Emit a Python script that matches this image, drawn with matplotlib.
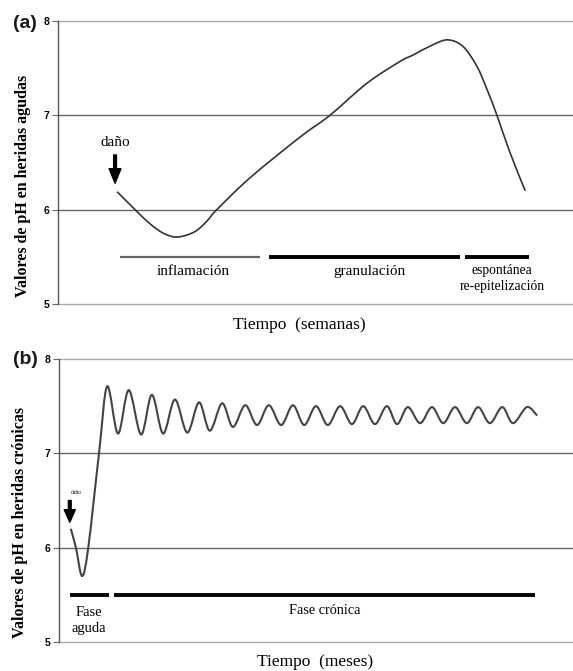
import numpy as np
import matplotlib
matplotlib.use("Agg")
import matplotlib.pyplot as plt
from matplotlib.path import Path
from matplotlib.patches import PathPatch

# ---------------- data ----------------
ph_ticks = [5, 6, 7, 8]

# (a) acute wounds: time (arbitrary units 0-100), pH
acute_t = [11.5, 15.0, 17.9, 20.5, 22.8, 25.0, 27.0, 29.0, 30.9, 37.4, 47.1, 52.9,
           60.1, 66.5, 69.1, 73.0, 75.9, 78.8, 81.5, 83.5, 85.4, 87.9, 90.9]
acute_ph = [6.19, 6.00, 5.85, 5.75, 5.71, 5.73, 5.78, 5.88, 6.00, 6.34, 6.77, 7.00,
            7.34, 7.57, 7.64, 7.75, 7.80, 7.73, 7.52, 7.27, 7.00, 6.61, 6.20]

acute_phases = ["inflamación", "granulación", "espontánea\nre-epitelización"]
acute_phase_start = [12.1, 41.1, 79.2]
acute_phase_end = [39.3, 78.2, 91.6]
acute_phase_label_x = [26.3, 60.7, 86.4]

# (b) chronic wounds
chronic_t = [2.3, 3.3, 4.5, 5.7, 7.8, 9.4,
             11.5, 13.6, 16.0, 18.1, 20.3, 22.6, 25.0, 27.3, 29.4, 31.8, 33.9, 36.3,
             38.6, 40.9, 43.3, 45.6, 47.8, 50.1, 52.4, 54.8, 57.1, 59.3, 61.6, 63.9,
             65.9, 68.0, 70.4, 72.7, 74.9, 77.2, 79.5, 81.7, 84.0, 86.4, 88.5, 91.2, 93.2]
chronic_ph = [6.20, 6.00, 5.70, 6.00, 7.00, 7.71,
              7.21, 7.67, 7.20, 7.62, 7.21, 7.57, 7.22, 7.54, 7.24, 7.53, 7.28, 7.51,
              7.30, 7.51, 7.30, 7.51, 7.30, 7.50, 7.30, 7.50, 7.31, 7.50, 7.31, 7.50,
              7.31, 7.49, 7.32, 7.49, 7.32, 7.49, 7.32, 7.49, 7.32, 7.49, 7.32, 7.49, 7.40]

chronic_phases = ["Fase\naguda", "Fase crónica"]
chronic_phase_start = [2.1, 10.7]
chronic_phase_end = [9.7, 92.8]
chronic_phase_label_x = [5.8, 51.7]

bar_level = 5.5

SERIF = "Liberation Serif"
SANS = "Liberation Sans"


def smooth_path(xs, ys):
    pts = np.column_stack([xs, ys]).astype(float)
    n = len(pts)
    verts = [pts[0]]
    codes = [Path.MOVETO]
    for i in range(n - 1):
        p0 = pts[i - 1] if i > 0 else pts[i]
        p1 = pts[i]
        p2 = pts[i + 1]
        p3 = pts[i + 2] if i + 2 < n else pts[i + 1]
        c1 = p1 + (p2 - p0) / 6.0
        c2 = p2 - (p3 - p1) / 6.0
        verts += [c1, c2, p2]
        codes += [Path.CURVE4] * 3
    return Path(verts, codes)


def style_axes(ax):
    ax.set_xlim(0, 100)
    ax.set_ylim(5, 8)
    for s in ["top", "right", "bottom"]:
        ax.spines[s].set_visible(False)
    ax.spines["left"].set_color("#555555")
    ax.spines["left"].set_linewidth(1.0)
    ax.set_xticks([])
    ax.set_yticks(ph_ticks)
    ax.set_yticklabels([str(v) for v in ph_ticks], fontfamily=SANS,
                       fontweight="bold", fontsize=7.5)
    ax.tick_params(axis="y", length=4, width=0.8, color="#666666", pad=2)
    for v in ph_ticks:
        col = "#aaaaaa" if v in (5, 8) else "#666666"
        ax.axhline(v, color=col, lw=1.0, zorder=1, clip_on=False)


fig = plt.figure(figsize=(5.73, 6.71), dpi=100)

# ---------------- panel (a) ----------------
axa = fig.add_axes([58 / 573, 1 - 304 / 671, 514 / 573, 283 / 671])
style_axes(axa)
axa.add_patch(PathPatch(smooth_path(acute_t, acute_ph), fill=False,
                        edgecolor="#333333", lw=1.2, zorder=3))
for i, (s, e) in enumerate(zip(acute_phase_start, acute_phase_end)):
    if i == 0:
        axa.plot([s, e], [bar_level, bar_level], color="#666666", lw=1.6,
                 solid_capstyle="butt")
    else:
        axa.plot([s, e], [bar_level, bar_level], color="black", lw=2.8,
                 solid_capstyle="butt")
axa.text(acute_phase_label_x[0], 5.34, acute_phases[0], ha="center", va="center",
         fontfamily=SERIF, fontsize=11)
axa.text(acute_phase_label_x[1], 5.34, acute_phases[1], ha="center", va="center",
         fontfamily=SERIF, fontsize=11)
axa.text(acute_phase_label_x[2], 5.27, acute_phases[2], ha="center", va="center",
         fontfamily=SERIF, fontsize=9.8, linespacing=1.25)
axa.annotate("", xy=(11.1, 6.28), xytext=(11.1, 6.58),
             arrowprops=dict(facecolor="black", edgecolor="black", width=2.0,
                             headwidth=8.5, headlength=10.5, shrink=0))
axa.text(11.1, 6.71, "daño", ha="center", va="center", fontfamily=SERIF, fontsize=11)
axa.set_ylabel("Valores de pH en heridas agudas", fontfamily=SERIF,
               fontweight="bold", fontsize=11.5)
axa.yaxis.set_label_coords((31 - 58) / 514, (304 - 186) / 283)
axa.text(0.5 - 0.03, -0.075, "Tiempo  (semanas)", transform=axa.transAxes,
         ha="center", va="center", fontfamily=SERIF, fontsize=12.5)
fig.text(25 / 573, 1 - 24 / 671, "(a)", ha="center", va="center",
         fontfamily=SANS, fontweight="bold", fontsize=14, color="#1a1a1a")

# ---------------- panel (b) ----------------
axb = fig.add_axes([59 / 573, 1 - 642 / 671, 513 / 573, 283 / 671])
style_axes(axb)
axb.add_patch(PathPatch(smooth_path(chronic_t, chronic_ph), fill=False,
                        edgecolor="#444444", lw=1.5, zorder=3))
for s, e in zip(chronic_phase_start, chronic_phase_end):
    axb.plot([s, e], [bar_level, bar_level], color="black", lw=2.8,
             solid_capstyle="butt")
axb.text(chronic_phase_label_x[0], 5.23, chronic_phases[0], ha="center", va="center",
         fontfamily=SERIF, fontsize=10.5, linespacing=1.3)
axb.text(chronic_phase_label_x[1], 5.33, chronic_phases[1], ha="center", va="center",
         fontfamily=SERIF, fontsize=10.3)
axb.annotate("", xy=(2.1, 6.27), xytext=(2.1, 6.50),
             arrowprops=dict(facecolor="black", edgecolor="black", width=2.0,
                             headwidth=8, headlength=9, shrink=0))
axb.text(3.3, 6.59, "daño", ha="center", va="center", fontfamily=SERIF, fontsize=4)
axb.set_ylabel("Valores de pH en heridas crónicas", fontfamily=SERIF,
               fontweight="bold", fontsize=11.5)
axb.yaxis.set_label_coords((28 - 59) / 513, (642 - 522) / 283)
axb.text((315 - 59) / 513, (642 - 662) / 283, "Tiempo  (meses)", transform=axb.transAxes,
         ha="center", va="center", fontfamily=SERIF, fontsize=12.5)
fig.text(25 / 573, 1 - 360 / 671, "(b)", ha="center", va="center",
         fontfamily=SANS, fontweight="bold", fontsize=14, color="#1a1a1a")

fig.savefig("out.png", dpi=100)
